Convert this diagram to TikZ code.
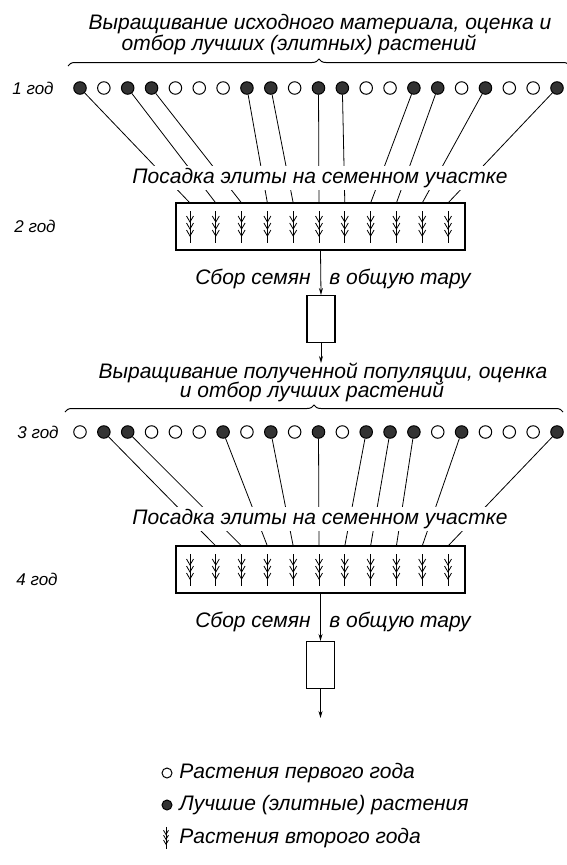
\documentclass[tikz,border=0pt]{standalone}
\usepackage{fontspec}
\setmainfont{Liberation Sans}
\usetikzlibrary{arrows.meta,decorations.pathreplacing}

\begin{document}
\begin{tikzpicture}[
  x=1pt,y=-1pt,>={Stealth[length=7pt,width=4pt]},line width=0.8pt,
  txt/.style={font=\itshape\fontsize{21}{23}\selectfont,inner sep=1pt},
  yr/.style={font=\itshape\fontsize{17}{19}\selectfont,inner sep=1pt},
  gap/.style={txt,fill=white,inner sep=2pt},
  young/.style={circle,draw,line width=1pt,minimum size=12.5pt,inner sep=0pt},
  elite/.style={young,fill=black!80},
  field/.style={draw,line width=1.1pt,minimum width=289pt,minimum height=47pt,inner sep=0pt},
  sack/.style={draw,line width=1.1pt,minimum width=28pt,minimum height=47pt,inner sep=0pt},
  brc/.style={decorate,decoration={brace,amplitude=7pt},line width=1pt},
  plant/.pic={
    \draw (0,-16) -- (0,16);
    \foreach \k in {-11,-4,3}
      \draw[line width=0.8pt] (-3.5,\k) -- (0,\k+6) -- (3.5,\k);
  }
]
\useasboundingbox (0,0) rectangle (566,865);

% year 1
\node[txt] (head1a) at (320,24) {Выращивание исходного материала, оценка и};
\node[txt] (head1b) at (299,45) {отбор лучших (элитных) растений};
\draw[brc] (68,66) -- (570,66);
\node[yr] (year1) at (33,88) {1 год};
\foreach \s [count=\i] in {elite,young,elite,elite,young,young,young,elite,elite,young,elite,
    elite,young,young,elite,elite,young,elite,young,young,elite}
  \node[\s] (a\i) at ({80+(\i-1)*23.85},88) {};

% year 2
\node[field] (field1) at (320.5,226.5) {};
\foreach \j in {1,...,11} {
  \coordinate (p\j) at ({190+(\j-1)*25.8},203);
  \pic at ({190+(\j-1)*25.8},227) {plant};
}
\foreach \c [count=\j] in {1,3,4,8,9,11,12,15,16,18,21}
  \draw (a\c) -- (p\j);
\node[gap] (plant1) at (320,178) {Посадка элиты на семенном участке};
\node[yr] (year2) at (35,226) {2 год};
\node[sack] (sack1) at (321,319) {};
\draw[->] (field1.south) -- (sack1.north);
\node[txt,anchor=east] (col1a) at (312,279) {Сбор семян};
\node[txt,anchor=west] (col1b) at (328,279) {в общую тару};
\coordinate (in2) at (321,363);
\draw[->] (sack1.south) -- (in2);

% year 3
\node[txt] (head2a) at (323,373) {Выращивание полученной популяции, оценка};
\node[txt] (head2b) at (312,392) {и отбор лучших растений};
\draw[brc] (65,412) -- (563,412);
\node[yr] (year3) at (38,432) {3 год};
\foreach \s [count=\i] in {young,elite,elite,young,young,young,elite,young,elite,young,elite,
    young,elite,elite,elite,young,elite,young,young,young,elite}
  \node[\s] (b\i) at ({80+(\i-1)*23.85},432) {};

% year 4
\node[field] (field2) at (320.5,569.5) {};
\foreach \j in {1,...,11} {
  \coordinate (q\j) at ({190+(\j-1)*25.8},546);
  \pic at ({190+(\j-1)*25.8},570) {plant};
}
\foreach \c [count=\j from 2] in {2,3,7,9,11,13,14,15,17,21}
  \draw (b\c) -- (q\j);
\node[gap] (plant2) at (320,519) {Посадка элиты на семенном участке};
\node[yr] (year4) at (37,579) {4 год};
\node[sack] (sack2) at (320.5,665) {};
\draw[->] (field2.south) -- (sack2.north);
\node[txt,anchor=east] (col2a) at (312,622) {Сбор семян};
\node[txt,anchor=west] (col2b) at (328,622) {в общую тару};
\coordinate (out) at (320.5,718);
\draw[->] (sack2.south) -- (out);

% legend
\node[young,minimum size=10pt] (keyy) at (167,773) {};
\node[txt,anchor=west] at (178,773) {Растения первого года};
\node[elite,minimum size=10pt] (keye) at (167,805) {};
\node[txt,anchor=west] at (178,805) {Лучшие (элитные) растения};
\pic[scale=0.7] (keyp) at (166,838) {plant};
\node[txt,anchor=west] at (178,838) {Растения второго года};
\end{tikzpicture}
\end{document}
